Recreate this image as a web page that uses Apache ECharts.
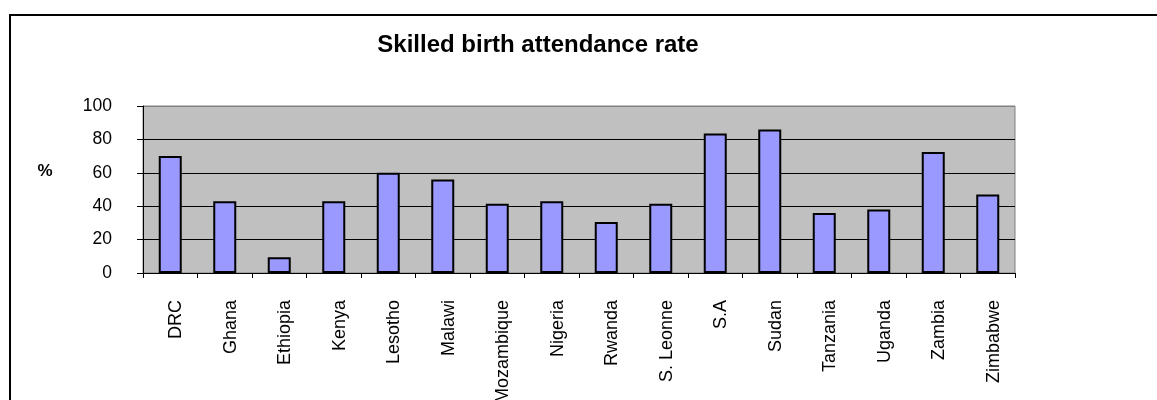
<!DOCTYPE html>
<html>
<head>
<meta charset="utf-8">
<script src="https://cdn.jsdelivr.net/npm/echarts@6/dist/echarts.min.js"></script>
<style>
html,body{margin:0;padding:0;background:#fff;}
#chart{width:1157px;height:400px;}
</style>
</head>
<body>
<div id="chart"></div>
<script>
const titleText = 'Skilled birth attendance rate';
const yAxisName = '%';
const categories = ['DRC','Ghana','Ethiopia','Kenya','Lesotho','Malawi','Mozambique','Nigeria','Rwanda','S. Leonne','S.A','Sudan','Tanzania','Uganda','Zambia','Zimbabwe'];
const rates = [70, 43, 9.5, 43, 60, 56, 41.5, 43, 30.5, 41.5, 83.5, 86, 36, 38, 72.5, 47];
const yTicks = [0, 20, 40, 60, 80, 100];

const FONT = 'Liberation Sans, Arial, sans-serif';
const chart = echarts.init(document.getElementById('chart'), null, {renderer:'canvas'});
chart.setOption({
  animation: false,
  backgroundColor: '#ffffff',
  graphic: [
    {type:'rect', shape:{x:10, y:15, width:1300, height:500}, style:{fill:null, stroke:'#000', lineWidth:2}, z:0},
    {type:'text', x:538, y:45, style:{text:titleText, font:'bold 24px ' + FONT, fill:'#000', textAlign:'center', textVerticalAlign:'middle'}},
    {type:'text', x:45, y:171, style:{text:yAxisName, font:'bold 17px ' + FONT, fill:'#000', textAlign:'center', textVerticalAlign:'middle'}}
  ],
  grid: {left:143, top:106, width:872, height:167, show:true, backgroundColor:'#C0C0C0', borderColor:'#808080', borderWidth:1, containLabel:false, outerBoundsMode:'none'},
  xAxis: {
    type:'category', data:categories, boundaryGap:true,
    axisLine:{show:true, lineStyle:{color:'#000', width:1}},
    axisTick:{show:true, length:5, lineStyle:{color:'#000'}},
    axisLabel:{rotate:90, margin:27, fontSize:18, fontFamily:FONT, color:'#000', interval:0, verticalAlign:'top', lineHeight:12}
  },
  yAxis: {
    type:'value', min:yTicks[0], max:yTicks[yTicks.length-1], interval:20,
    axisLine:{show:true, lineStyle:{color:'#000', width:1}},
    axisTick:{show:true, length:6, lineStyle:{color:'#000'}},
    axisLabel:{margin:31, fontSize:17.5, fontFamily:FONT, color:'#000'},
    splitLine:{show:true, lineStyle:{color:['#000','#000','#000','#000','#000','#808080'], width:1}}
  },
  series: [{
    type:'bar', data:rates, barWidth:23,
    itemStyle:{color:'#9999FF', borderColor:'#000', borderWidth:2}
  }]
});
</script>
</body>
</html>
